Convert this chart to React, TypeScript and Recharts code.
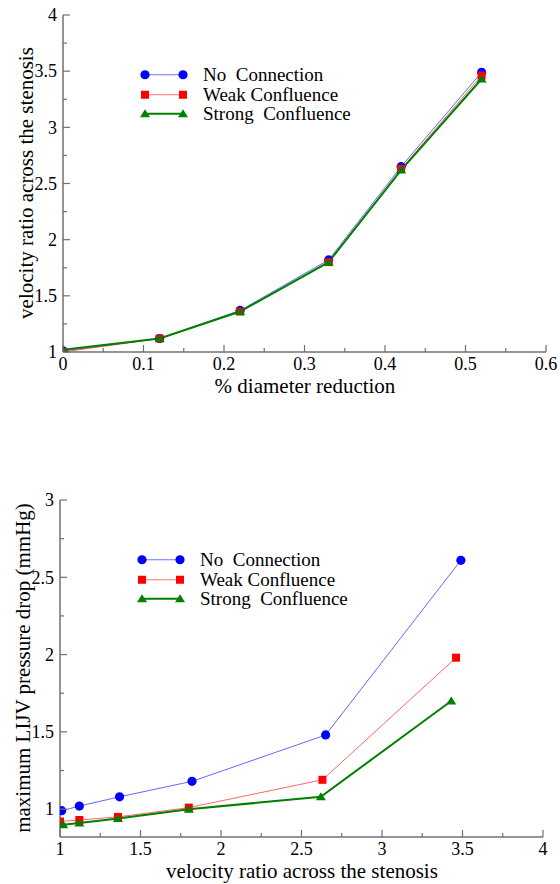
import { LineChart, Line, XAxis, YAxis, Legend, Label } from 'recharts';

// diameter reduction (fraction) at each stenosis level
const diameterReduction = [0, 0.12, 0.22, 0.33, 0.42, 0.52];

// velocity ratio across the stenosis, per connection type
const velocityNoConnection = [1.01, 1.12, 1.37, 1.82, 2.65, 3.49];
const velocityWeak = [1.0, 1.12, 1.36, 1.8, 2.63, 3.46];
const velocityStrong = [1.02, 1.12, 1.36, 1.8, 2.62, 3.43];

// maximum LIJV pressure drop (mmHg), per connection type
const dropNoConnection = [0.99, 1.02, 1.08, 1.18, 1.48, 2.61];
const dropWeak = [0.92, 0.93, 0.95, 1.01, 1.19, 1.98];
const dropStrong = [0.9, 0.91, 0.94, 1.0, 1.08, 1.7];

const seriesNames = ['No  Connection', 'Weak Confluence', 'Strong  Confluence'];

// major + minor ticks (minor ones sit at odd indices)
const diameterTicks = [0, 0.05, 0.1, 0.15, 0.2, 0.25, 0.3, 0.35, 0.4, 0.45, 0.5, 0.55, 0.6];
const velocityTicks = [1, 1.25, 1.5, 1.75, 2, 2.25, 2.5, 2.75, 3, 3.25, 3.5, 3.75, 4];
const dropTicks = [1, 1.25, 1.5, 1.75, 2, 2.25, 2.5, 2.75, 3];

const FONT = "'Liberation Serif', 'DejaVu Serif', 'Times New Roman', Times, serif";
const AXIS = '#707070';

const seriesStyle = [
  { shape: 'circle', color: '#0000ff', width: 1 },
  { shape: 'square', color: '#ff0000', width: 1 },
  { shape: 'triangle', color: '#008000', width: 2 },
];

const zip = (xs: number[], ys: number[]) => xs.map((x, i) => ({ x, y: ys[i] }));

function Marker({ shape, color, cx, cy }: any) {
  if (shape === 'circle') return <circle cx={cx} cy={cy} r={4.6} fill={color} />;
  if (shape === 'square') return <rect x={cx - 4} y={cy - 4} width={8} height={8} fill={color} />;
  return <polygon points={`${cx},${cy - 4.5} ${cx + 5},${cy + 3.5} ${cx - 5},${cy + 3.5}`} fill={color} />;
}

const makeDot = (shape: string, color: string) => (p: any) => (
  <Marker key={`d-${p.index}`} shape={shape} color={color} cx={p.cx} cy={p.cy} />
);

function XTick({ x, y, payload, index }: any) {
  const major = index % 2 === 0;
  return (
    <g>
      <line x1={x} x2={x} y1={y} y2={y - (major ? 7 : 4)} stroke={AXIS} strokeWidth={1.2} />
      {major && (
        <text x={x} y={y + 17.5} textAnchor="middle" fontSize={18} style={{ fontFamily: FONT }} fill="#000">
          {payload.value}
        </text>
      )}
    </g>
  );
}

function YTick({ x, y, payload, index }: any) {
  const major = index % 2 === 0;
  return (
    <g>
      <line x1={x} x2={x + (major ? 7 : 4)} y1={y} y2={y} stroke={AXIS} strokeWidth={1.2} />
      {major && (
        <text x={x - 6} y={y} dy="0.35em" textAnchor="end" fontSize={18} style={{ fontFamily: FONT }} fill="#000">
          {payload.value}
        </text>
      )}
    </g>
  );
}

function LegendBox() {
  return (
    <div style={{ fontFamily: FONT, fontSize: 19, color: '#000' }}>
      {seriesNames.map((name, i) => {
        const s = seriesStyle[i];
        return (
          <div key={name} style={{ display: 'flex', alignItems: 'center', height: 19.5 }}>
            <svg width={63} height={19.5} style={{ display: 'block' }}>
              <line x1={5} x2={43} y1={9.75} y2={9.75} stroke={s.color} strokeWidth={s.width} strokeOpacity={s.width > 1 ? 1 : 0.55} />
              <Marker shape={s.shape} color={s.color} cx={5} cy={9.75} />
              <Marker shape={s.shape} color={s.color} cx={43} cy={9.75} />
            </svg>
            <span style={{ whiteSpace: 'pre', lineHeight: '19.5px' }}>{name}</span>
          </div>
        );
      })}
    </div>
  );
}

const axisLine = { stroke: AXIS, strokeWidth: 1.5 };

function renderLines(xsList: number[][], ysList: number[][]) {
  return seriesNames.map((name, i) => {
    const s = seriesStyle[i];
    return (
      <Line
        key={name}
        name={name}
        data={zip(xsList[i], ysList[i])}
        dataKey="y"
        stroke={s.color}
        strokeWidth={s.width}
        strokeOpacity={s.width > 1 ? 1 : 0.6}
        dot={makeDot(s.shape, s.color)}
        activeDot={false}
        isAnimationActive={false}
      />
    );
  });
}

const titleStyle = { fontFamily: FONT };

export default function App() {
  return (
    <div style={{ position: 'absolute', left: 0, top: 0, width: 560, height: 884, background: '#fff', fontFamily: FONT }}>
      <LineChart width={560} height={440} margin={{ top: 15, right: 14, bottom: 0, left: 0 }}>
        <XAxis
          type="number"
          dataKey="x"
          domain={[0, 0.6]}
          ticks={diameterTicks}
          interval={0}
          tickSize={0}
          tickMargin={0}
          tickLine={false}
          tick={<XTick />}
          axisLine={axisLine}
          height={88}
          allowDataOverflow
        >
          <Label
            content={() => (
              <text x={305} y={392.5} textAnchor="middle" fontSize={21} style={titleStyle} fill="#000">
                % diameter reduction
              </text>
            )}
          />
        </XAxis>
        <YAxis
          type="number"
          domain={[1, 4]}
          ticks={velocityTicks}
          interval={0}
          tickSize={0}
          tickMargin={0}
          tickLine={false}
          tick={<YTick />}
          axisLine={axisLine}
          width={63}
          allowDataOverflow
        >
          <Label
            content={() => (
              <text x={33} y={183} transform="rotate(-90 33 183)" textAnchor="middle" fontSize={21} style={titleStyle} fill="#000">
                velocity ratio across the stenosis
              </text>
            )}
          />
        </YAxis>
        {renderLines(
          [diameterReduction, diameterReduction, diameterReduction],
          [velocityNoConnection, velocityWeak, velocityStrong]
        )}
        <Legend
          layout="vertical"
          align="center"
          verticalAlign="middle"
          content={() => <LegendBox />}
          wrapperStyle={{ top: 65, left: 140, width: 240 }}
        />
      </LineChart>

      <LineChart width={560} height={444} margin={{ top: 60, right: 17, bottom: 0, left: 0 }}>
        <XAxis
          type="number"
          dataKey="x"
          domain={[1, 4]}
          ticks={velocityTicks}
          interval={0}
          tickSize={0}
          tickMargin={0}
          tickLine={false}
          tick={<XTick />}
          axisLine={axisLine}
          height={47}
          allowDataOverflow
        >
          <Label
            content={() => (
              <text x={302} y={437.5} textAnchor="middle" fontSize={21} style={titleStyle} fill="#000">
                velocity ratio across the stenosis
              </text>
            )}
          />
        </XAxis>
        <YAxis
          type="number"
          domain={[0.82, 3]}
          ticks={dropTicks}
          interval={0}
          tickSize={0}
          tickMargin={0}
          tickLine={false}
          tick={<YTick />}
          axisLine={axisLine}
          width={60}
          allowDataOverflow
        >
          <Label
            content={() => (
              <text x={30} y={228} transform="rotate(-90 30 228)" textAnchor="middle" fontSize={21} style={titleStyle} fill="#000">
                maximum LIJV pressure drop (mmHg)
              </text>
            )}
          />
        </YAxis>
        {renderLines(
          [velocityNoConnection, velocityWeak, velocityStrong],
          [dropNoConnection, dropWeak, dropStrong]
        )}
        <Legend
          layout="vertical"
          align="center"
          verticalAlign="middle"
          content={() => <LegendBox />}
          wrapperStyle={{ top: 110, left: 137, width: 240 }}
        />
      </LineChart>
    </div>
  );
}
